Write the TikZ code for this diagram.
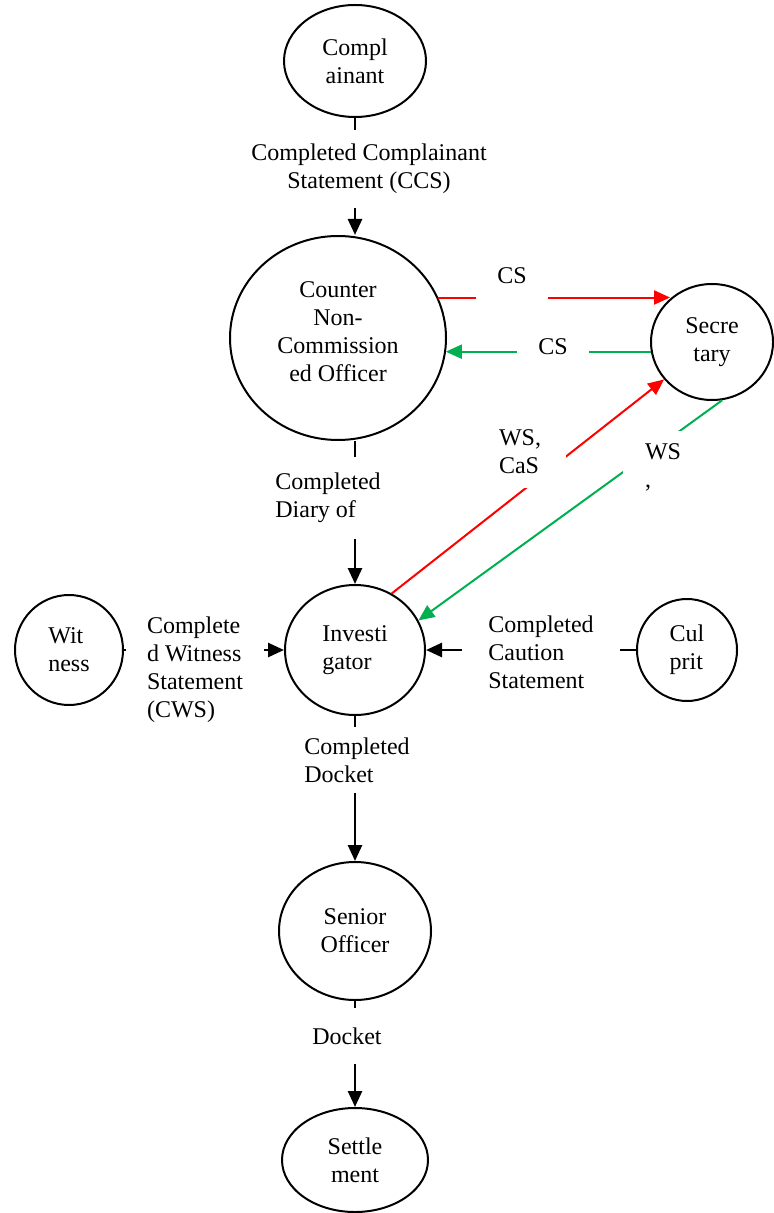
\documentclass[tikz,border=0pt]{standalone}
\usepackage{fontspec}
\setmainfont{Liberation Serif}
\usetikzlibrary{arrows.meta,shapes.geometric}
\definecolor{okgreen}{RGB}{0,176,80}

\begin{document}
\begin{tikzpicture}[x=0.5pt, y=-0.5pt, >={Triangle[length=8pt,width=7pt]},
  every node/.style={font=\fontsize{12}{14}\selectfont},
  actor/.style={draw, ellipse, line width=1pt, inner sep=0pt, align=center},
  lbl/.style={fill=white, inner xsep=2pt, inner ysep=2pt},
  flow/.style={->, line width=1.3pt},
  cflow/.style={->, line width=1pt}]
  \useasboundingbox (0,0) rectangle (774,1213);

  % actors
  \node[actor, minimum width=71pt, minimum height=56pt] (comp) at (355,61) {Compl\\ainant};
  \node[actor, minimum width=108pt, minimum height=102pt] (cnco) at (338,338) {Counter\\Non-\\Commission\\ed Officer\\[-8pt]};
  \node[actor, minimum width=61pt, minimum height=58pt] (sec) at (712,342) {Secre\\tary};
  \node[actor, align=left, minimum width=70pt, minimum height=65pt] (inv) at (355,650) {Investi\\gator};
  \node[actor, align=left, minimum width=54pt, minimum height=55pt] (wit) at (69,650) {Wit\\ness};
  \node[actor, align=left, minimum width=50pt, minimum height=51pt] (cul) at (687,650) {Cul\\prit};
  \node[actor, minimum width=76pt, minimum height=69pt] (sen) at (355,931) {Senior\\Officer};
  \node[actor, minimum width=73pt, minimum height=52pt] (set) at (355,1160) {Settle\\ment};

  % flows
  \draw[flow] (comp.south) -- (comp.south |- cnco.north);
  \draw[cflow, red] (cnco.22.5) -- (sec.134 |- cnco.22.5);
  \draw[cflow, okgreen] (sec.189.5) -- (cnco.352.5 |- sec.189.5);
  \draw[cflow, red] (inv.57) -- (sec.218);
  \draw[cflow, okgreen] (sec.280) -- (inv.25);
  \draw[flow] (cnco.south -| inv.north) -- (inv.north);
  \draw[flow] (wit.east) -- (inv.west);
  \draw[flow] (cul.west) -- (inv.east);
  \draw[flow] (inv.south) -- (sen.north);
  \draw[flow] (sen.south) -- (set.north);

  % labels
  \node[lbl, align=center, inner ysep=7pt] (ccs) at (369,169) {Completed Complainant\\Statement (CCS)};
  \node[lbl, inner xsep=10.7pt, inner ysep=9pt] (csout) at (512,276) {CS};
  \node[lbl, inner xsep=10.5pt, inner ysep=3pt] (csin) at (553,347) {CS};
  \node[lbl, align=left, inner xsep=12.5pt, inner ysep=7pt] (wscas) at (520,452) {WS,\\CaS};
  \node[lbl, align=left, inner xsep=11pt, inner ysep=6pt] (wsback) at (663,467) {WS\\,};
  \node[lbl, align=left, inner ysep=8pt] (cda) at (328,498) {Completed\\Diary of};
  \node[lbl, align=left, inner xsep=10.5pt, inner ysep=3pt] (cws) at (195,670) {Complete\\d Witness\\Statement\\(CWS)};
  \node[lbl, align=left, inner xsep=13pt, inner ysep=3pt] (ccas) at (541,652) {Completed\\Caution\\Statement};
  \node[lbl, align=left, inner ysep=5.5pt] (cdk) at (357,760) {Completed\\Docket};
  \node[lbl, inner ysep=10pt] (dk) at (347,1036) {Docket};
\end{tikzpicture}
\end{document}
